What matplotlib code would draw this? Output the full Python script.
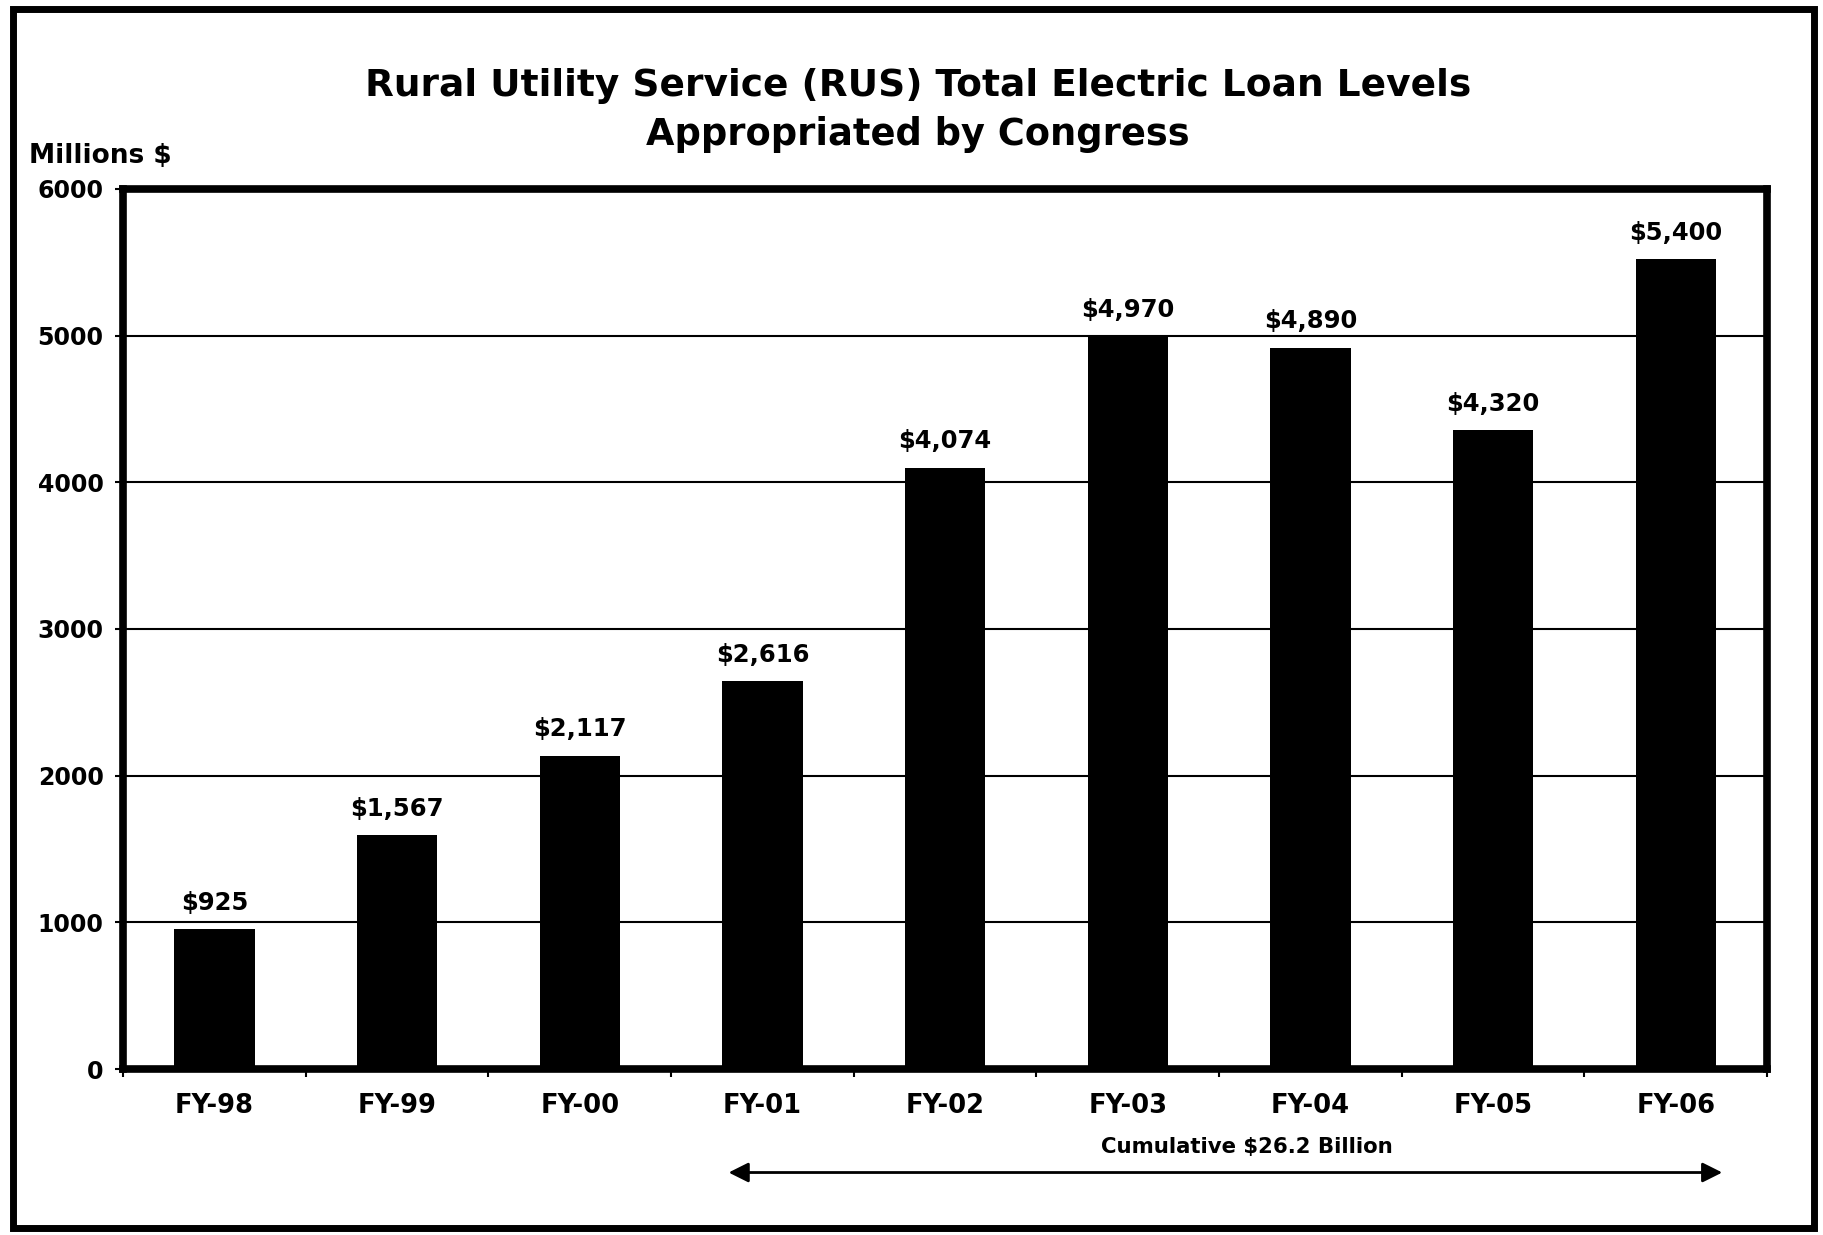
import matplotlib
matplotlib.use('Agg')
import matplotlib.pyplot as plt
from matplotlib.patches import Rectangle

# data (bar heights as drawn, labels as printed)
years = ['FY-98', 'FY-99', 'FY-00', 'FY-01', 'FY-02', 'FY-03', 'FY-04', 'FY-05', 'FY-06']
bar_heights = [955, 1596, 2136, 2643, 4099, 4995, 4917, 4356, 5522]
labels = ['$925', '$1,567', '$2,117', '$2,616', '$4,074', '$4,970', '$4,890', '$4,320', '$5,400']
yticks = [0, 1000, 2000, 3000, 4000, 5000, 6000]

plt.rcParams['font.family'] = 'DejaVu Sans'
plt.rcParams['font.weight'] = 'bold'

fig = plt.figure(figsize=(18.23, 12.35), dpi=100)
ax = fig.add_axes([0.0675, 0.1344, 0.9018, 0.7126])

x = list(range(len(years)))
ax.bar(x, bar_heights, width=0.44, color='black', zorder=3)

for xi, v, lab in zip(x, bar_heights, labels):
    ax.annotate(lab, (xi, v), xytext=(0, 19), textcoords='offset points',
                ha='center', va='center', fontsize=17.5, fontweight='bold')

ax.set_xlim(-0.5, len(years) - 0.5)
ax.set_ylim(0, 6000)
ax.set_yticks(yticks)
ax.set_yticklabels([str(t) for t in yticks], fontsize=17, fontweight='bold')

# category labels centred, tick marks on boundaries
ax.set_xticks([i - 0.5 for i in range(len(years) + 1)])
ax.set_xticklabels([])
ax.set_xticks(x, minor=True)
ax.set_xticklabels(years, minor=True, fontsize=18.5, fontweight='bold')
ax.tick_params(axis='x', which='minor', length=0, pad=17)
ax.tick_params(axis='x', which='major', length=6, width=1.5, direction='out')
ax.tick_params(axis='y', length=6, width=1.5, direction='out', pad=8)

ax.yaxis.grid(True, color='black', linewidth=1.5, zorder=1)
ax.set_axisbelow(True)
for side in ['left', 'right', 'top', 'bottom']:
    ax.spines[side].set_linewidth(5.5)

# titles
fig.text(0.5035, 0.930, 'Rural Utility Service (RUS) Total Electric Loan Levels',
         ha='center', va='center', fontsize=27, fontweight='bold')
fig.text(0.5035, 0.891, 'Appropriated by Congress',
         ha='center', va='center', fontsize=26.5, fontweight='bold')
fig.text(0.016, 0.874, 'Millions $', ha='left', va='center', fontsize=19, fontweight='bold')

# cumulative arrow below the axis
trans = ax.get_xaxis_transform()
ax.annotate('', xy=(8.27, -0.1176), xytext=(2.80, -0.1176), xycoords=trans, textcoords=trans,
            arrowprops=dict(arrowstyle='<|-|>', color='black', lw=2, mutation_scale=30),
            annotation_clip=False)
ax.text(5.655, -0.0885, 'Cumulative $26.2 Billion', transform=trans,
        ha='center', va='center', fontsize=15.3, fontweight='bold')

# outer frame
fig.patches.append(Rectangle((0.0074, 0.0057), 0.9879, 0.987, transform=fig.transFigure,
                             fill=False, edgecolor='black', linewidth=5))

fig.savefig('out.png', dpi=100, facecolor='white')
